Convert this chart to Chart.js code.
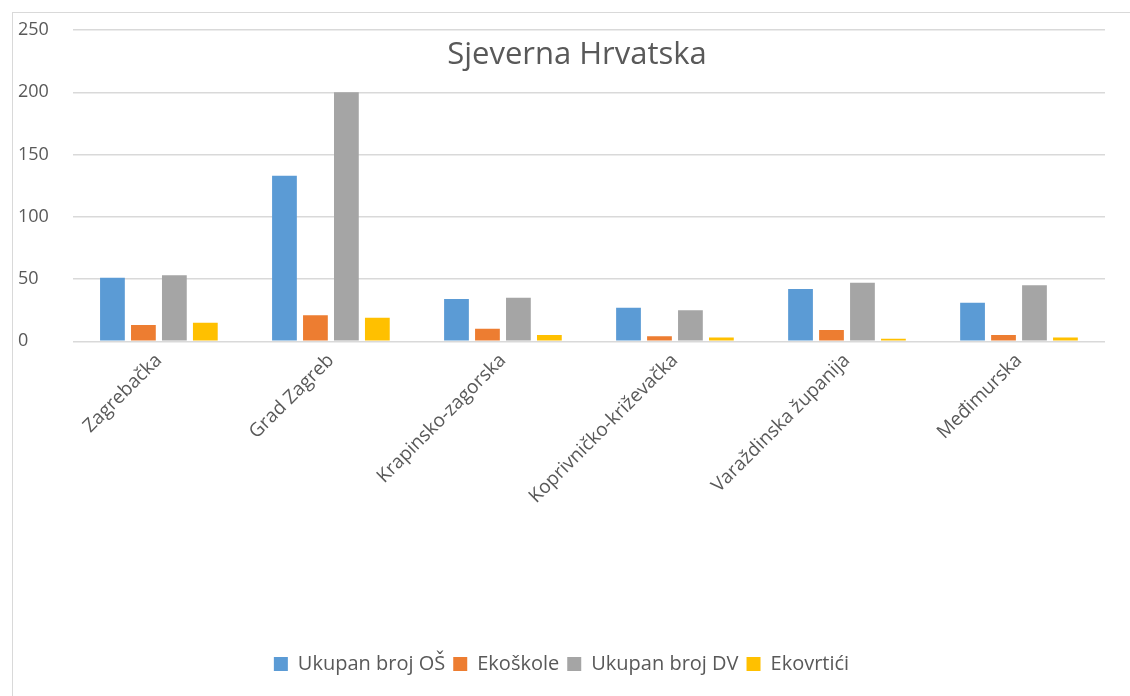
<!DOCTYPE html>
<html>
<head>
<meta charset="utf-8">
<script src="https://cdn.jsdelivr.net/npm/chart.js@4.4.1/dist/chart.umd.min.js"></script>
<style>
  html, body { margin: 0; padding: 0; background: #fff; }
  #wrap { position: relative; width: 1130px; height: 696px; }
  #frame { position: absolute; left: 12px; top: 12px; width: 1130px; height: 700px; border: 1px solid #d9d9d9; box-sizing: border-box; }
  canvas { position: absolute; left: 0; top: 0; }
</style>
</head>
<body>
<div id="wrap">
  <div id="frame"></div>
  <canvas id="chart" width="1130" height="696"></canvas>
</div>
<script>
// podaci
const zupanije = ['Zagrebačka', 'Grad Zagreb', 'Krapinsko-zagorska', 'Koprivničko-križevačka', 'Varaždinska županija', 'Međimurska'];
const ukupnoOS = [51, 133, 34, 27, 42, 31];
const ekoskole = [13, 21, 10, 4, 9, 5];
const ukupnoDV = [53, 200, 35, 25, 47, 45];
const ekovrtici = [15, 19, 5, 3, 2, 3];
const yTicks = [0, 50, 100, 150, 200, 250];

const textColor = '#595959';
const fontFam = '"Open Sans", "Liberation Sans", sans-serif';

// naslov unutar podrucja grafa (kao u Excelu)
const titleInside = {
  id: 'titleInside',
  afterDraw(chart) {
    const ctx = chart.ctx;
    ctx.save();
    ctx.fillStyle = textColor;
    ctx.font = '31px ' + fontFam;
    ctx.textAlign = 'center';
    ctx.textBaseline = 'middle';
    ctx.fillText('Sjeverna Hrvatska', 577, 55);
    ctx.restore();
  }
};

const setupChart = () => {
  const ctx = document.getElementById('chart').getContext('2d');
  new Chart(ctx, {
    type: 'bar',
    data: {
      labels: zupanije,
      datasets: [
        { label: 'Ukupan broj OŠ', data: ukupnoOS, backgroundColor: '#5B9BD5' },
        { label: 'Ekoškole', data: ekoskole, backgroundColor: '#ED7D31' },
        { label: 'Ukupan broj DV', data: ukupnoDV, backgroundColor: '#A5A5A5' },
        { label: 'Ekovrtići', data: ekovrtici, backgroundColor: '#FFC000' }
      ]
    },
    options: {
      responsive: false,
      animation: false,
      categoryPercentage: 0.72,
      barPercentage: 0.8,
      layout: { padding: { left: 18, right: 25, top: 30, bottom: 12 } },
      scales: {
        x: {
          grid: { display: false },
          border: { display: false },
          ticks: {
            color: textColor,
            font: { family: fontFam, size: 19 },
            minRotation: 45,
            maxRotation: 45,
            padding: 0
          },
          afterFit(scale) { scale.height += 138; }
        },
        y: {
          min: 0,
          max: 250,
          afterBuildTicks(scale) { scale.ticks = yTicks.map(v => ({ value: v })); },
          grid: { color: '#d9d9d9', lineWidth: 1.5, drawTicks: false },
          border: { display: false },
          ticks: {
            color: textColor,
            font: { family: fontFam, size: 18 },
            crossAlign: 'far',
            padding: 12
          }
        }
      },
      plugins: {
        legend: {
          position: 'bottom',
          labels: {
            color: textColor,
            font: { family: fontFam, size: 20 },
            boxWidth: 14,
            boxHeight: 14,
            padding: 8
          }
        },
        tooltip: { enabled: false }
      }
    },
    plugins: [titleInside]
  });
};
document.addEventListener('DOMContentLoaded', () => {
  setupChart();
});
</script>
</body>
</html>
